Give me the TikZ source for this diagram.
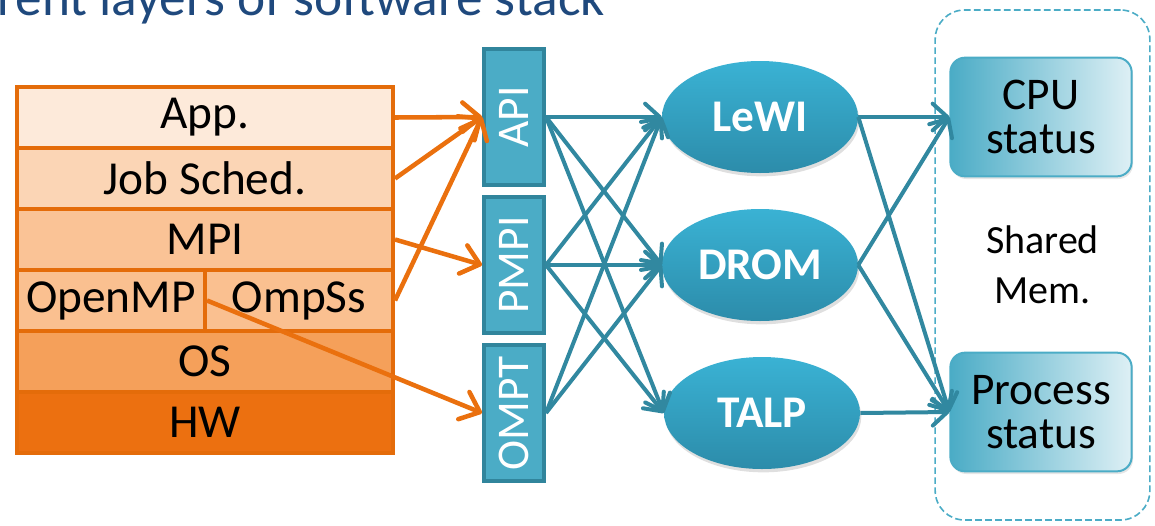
\documentclass[tikz,border=0pt]{standalone}
\usepackage{fontspec}
\usepackage{graphicx}
\setmainfont{Carlito}
\usetikzlibrary{arrows.meta,shapes.geometric,shadows}

\definecolor{titleblue}{RGB}{31,73,125}
\definecolor{orline}{RGB}{228,108,10}
\definecolor{orarrowc}{RGB}{234,112,14}
\definecolor{lapp}{RGB}{253,234,218}
\definecolor{ljob}{RGB}{251,213,181}
\definecolor{lmpi}{RGB}{250,195,150}
\definecolor{lomp}{RGB}{250,192,144}
\definecolor{los}{RGB}{245,160,90}
\definecolor{lhw}{RGB}{236,112,16}
\definecolor{tealfill}{RGB}{75,172,198}
\definecolor{tealedge}{RGB}{49,133,156}
\definecolor{tealline}{RGB}{49,136,160}
\definecolor{elltop}{RGB}{58,178,212}
\definecolor{ellbot}{RGB}{44,140,170}
\definecolor{boxlight}{RGB}{222,240,245}

\begin{document}
\begin{tikzpicture}[x=0.75pt,y=-0.75pt,
  layer/.style={draw=orline, line width=3pt, minimum height=45.75pt,
    inner sep=0pt, font=\fontsize{35.5}{40}\selectfont, text=black},
  fulllayer/.style={layer, minimum width=282pt},
  halflayer/.style={layer, minimum width=141pt},
  iface/.style={draw=tealedge, fill=tealfill, line width=3pt,
    minimum width=45pt, minimum height=102pt, inner sep=0pt,
    text=white, font=\fontsize{34}{38}\selectfont},
  module/.style={ellipse, top color=elltop, bottom color=ellbot,
    minimum width=147pt, minimum height=84pt, inner sep=0pt,
    text=white, font=\fontsize{34}{38}\selectfont\bfseries,
    drop shadow={shadow xshift=1pt, shadow yshift=-2.5pt, opacity=0.25}},
  statebox/.style={rounded corners=11pt, draw=tealfill, line width=1.5pt,
    left color=tealfill, right color=boxlight,
    minimum width=136pt, minimum height=89pt, inner sep=0pt,
    align=center, font=\fontsize{34}{32.5}\selectfont,
    drop shadow={shadow xshift=1pt, shadow yshift=-2pt, opacity=0.2}},
  memframe/.style={draw=tealfill, line width=1.2pt,
    dash pattern=on 5pt off 2.5pt, rounded corners=22pt,
    minimum width=161pt, minimum height=382.5pt,
    align=center, font=\fontsize{30}{37.5}\selectfont},
  orarrow/.style={draw=orarrowc, line width=3.4pt,
    -{Straight Barb[length=13pt,width=22pt,round]}},
  tealarrow/.style={draw=tealline, line width=3pt,
    -{Straight Barb[length=11pt,width=20pt,round]}}
]
\useasboundingbox (0,0) rectangle (1155,525);

% heading
\node[anchor=base east, inner sep=0pt, text=titleblue,
  font=\fontsize{40}{44}\selectfont] (title) at (605,15)
  {rent layers of software stack};

% software stack
\node[fulllayer, fill=lapp] (app) at (205,117.5) {App.};
\node[fulllayer, fill=ljob] (job) at (205,178.5) {Job Sched.};
\node[fulllayer, fill=lmpi] (mpi) at (205,239.5) {MPI};
\node[halflayer, fill=lomp] (openmp) at (111,300.5) {OpenMP};
\node[halflayer, fill=lomp] (ompss) at (299,300.5) {OmpSs};
\node[fulllayer, fill=los] (os) at (205,361.5) {OS};
\node[fulllayer, fill=lhw] (hw) at (205,422.5) {HW};

% interception interfaces
\node[iface] (api) at (514,117) {\rotatebox{90}{API}};
\node[iface] (pmpi) at (514,265) {\rotatebox{90}{PMPI}};
\node[iface] (ompt) at (514,413) {\rotatebox{90}{OMPT}};

% stack to interfaces
\draw[orarrow] (app.east) -- (api.west);
\draw[orarrow] (job.east) -- (api.west);
\draw[orarrow] (ompss.east) -- (api.west);
\draw[orarrow] (mpi.east) -- (pmpi.west);
\draw[orarrow] (openmp.east) -- (ompt.west);

% DLB modules
\node[module] (lewi) at (760,117) {LeWI};
\node[module] (drom) at (760,265) {DROM};
\node[module] (talp) at (762,413) {TALP};

% interfaces to modules
\draw[tealarrow] (api.east) -- (lewi.west);
\draw[tealarrow] (api.east) -- (drom.west);
\draw[tealarrow] (api.east) -- (talp.west);
\draw[tealarrow] (pmpi.east) -- (lewi.west);
\draw[tealarrow] (pmpi.east) -- (drom.west);
\draw[tealarrow] (pmpi.east) -- (talp.west);
\draw[tealarrow] (ompt.east) -- (lewi.west);
\draw[tealarrow] (ompt.east) -- (drom.west);

% shared memory
\node[memframe] (shm) at (1042.5,265) {Shared\\Mem.};
\node[statebox] (cpu) at (1041,117) {CPU\\status};
\node[statebox] (proc) at (1041,412) {Process\\status};

% modules to shared memory
\draw[tealarrow] (lewi.east) -- (cpu.west);
\draw[tealarrow] (lewi.east) -- (proc.west);
\draw[tealarrow] (drom.east) -- (cpu.west);
\draw[tealarrow] (drom.east) -- (proc.west);
\draw[tealarrow] (talp.east) -- (proc.west);
\end{tikzpicture}
\end{document}
